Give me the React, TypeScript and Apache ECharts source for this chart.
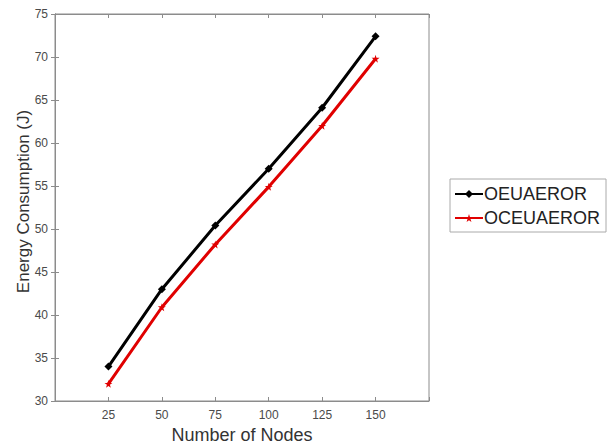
import React, { useEffect, useRef } from "react";
import * as echarts from "echarts";

const nodes = [25, 50, 75, 100, 125, 150];
const oeuaeror = [34.0, 43.0, 50.4, 57.0, 64.1, 72.4];
const oceuaeror = [32.0, 40.9, 48.2, 54.9, 62.0, 69.8];
const seriesNames = ["OEUAEROR", "OCEUAEROR"];

const FONT = "'Liberation Sans', Arial, Helvetica, sans-serif";
const STAR = "path://M50,0 L61,35 L98,35 L68,57 L79,91 L50,70 L21,91 L32,57 L2,35 L39,35 Z";

export default function App() {
  const ref = useRef<HTMLDivElement>(null);
  useEffect(() => {
    if (!ref.current) return;
    const chart = echarts.init(ref.current, undefined, { renderer: "svg" });
    const axisLineColor = "#8c8c8c";
    const labelColor = "#4a4a4a";
    chart.setOption({
      animation: false,
      backgroundColor: "#fff",
      grid: {
        left: 55,
        right: 185,
        top: 14,
        bottom: 44,
        show: true,
        borderColor: axisLineColor,
        borderWidth: 1,
        outerBoundsMode: "none",
        containLabel: false,
      },
      legend: {
        orient: "vertical",
        left: 450,
        top: 179,
        data: seriesNames,
        itemWidth: 28,
        itemHeight: 10,
        itemGap: 6,
        padding: [6, 6, 5, 4],
        borderColor: "#aaa",
        borderWidth: 1,
        textStyle: { fontFamily: FONT, fontSize: 18, color: "#222", padding: [0, 0, 0, -4] },
      },
      xAxis: [
        {
          type: "value",
          min: 0,
          max: 175,
          interval: 25,
          name: "Number of Nodes",
          nameLocation: "middle",
          nameGap: 25,
          nameMoveOverlap: false,
          nameTextStyle: { fontFamily: FONT, fontSize: 18, color: "#333" },
          axisLine: { show: true, lineStyle: { color: axisLineColor } },
          axisTick: { show: true, inside: true, length: 4, lineStyle: { color: axisLineColor } },
          splitLine: { show: false },
          axisLabel: {
            fontFamily: FONT,
            fontSize: 12,
            color: labelColor,
            margin: 8,
            formatter: (v: number) => (v === 0 || v === 175 ? "" : String(v)),
          },
        },
        {
          type: "value",
          position: "top",
          min: 0,
          max: 175,
          interval: 25,
          axisLine: { show: true, lineStyle: { color: axisLineColor } },
          axisTick: { show: true, inside: true, length: 4, lineStyle: { color: axisLineColor } },
          axisLabel: { show: false },
          splitLine: { show: false },
        },
      ],
      yAxis: [
        {
          type: "value",
          min: 30,
          max: 75,
          interval: 5,
          name: "Energy Consumption (J)",
          nameLocation: "middle",
          nameGap: 23,
          nameMoveOverlap: false,
          nameTextStyle: { fontFamily: FONT, fontSize: 17, color: "#333", padding: [0, 0, 0, 12] },
          axisLine: { show: true, lineStyle: { color: axisLineColor } },
          axisTick: { show: true, inside: true, length: 4, lineStyle: { color: axisLineColor } },
          splitLine: { show: false },
          axisLabel: { fontFamily: FONT, fontSize: 12, color: labelColor, margin: 7 },
        },
        {
          type: "value",
          position: "right",
          min: 30,
          max: 75,
          interval: 5,
          axisLine: { show: true, lineStyle: { color: axisLineColor } },
          axisTick: { show: true, inside: true, length: 4, lineStyle: { color: axisLineColor } },
          axisLabel: { show: false },
          splitLine: { show: false },
        },
      ],
      series: [
        {
          name: seriesNames[0],
          type: "line",
          data: nodes.map((n, i) => [n, oeuaeror[i]]),
          color: "#000",
          lineStyle: { width: 3, color: "#000" },
          symbol: "diamond",
          symbolSize: 8,
          itemStyle: { color: "#000" },
        },
        {
          name: seriesNames[1],
          type: "line",
          data: nodes.map((n, i) => [n, oceuaeror[i]]),
          color: "#e00000",
          lineStyle: { width: 3, color: "#e00000" },
          symbol: STAR,
          symbolSize: 8,
          itemStyle: { color: "#e00000" },
        },
      ],
    });
    return () => chart.dispose();
  }, []);
  return <div ref={ref} style={{ width: 614, height: 445, position: "absolute", left: 0, top: 0 }} />;
}
